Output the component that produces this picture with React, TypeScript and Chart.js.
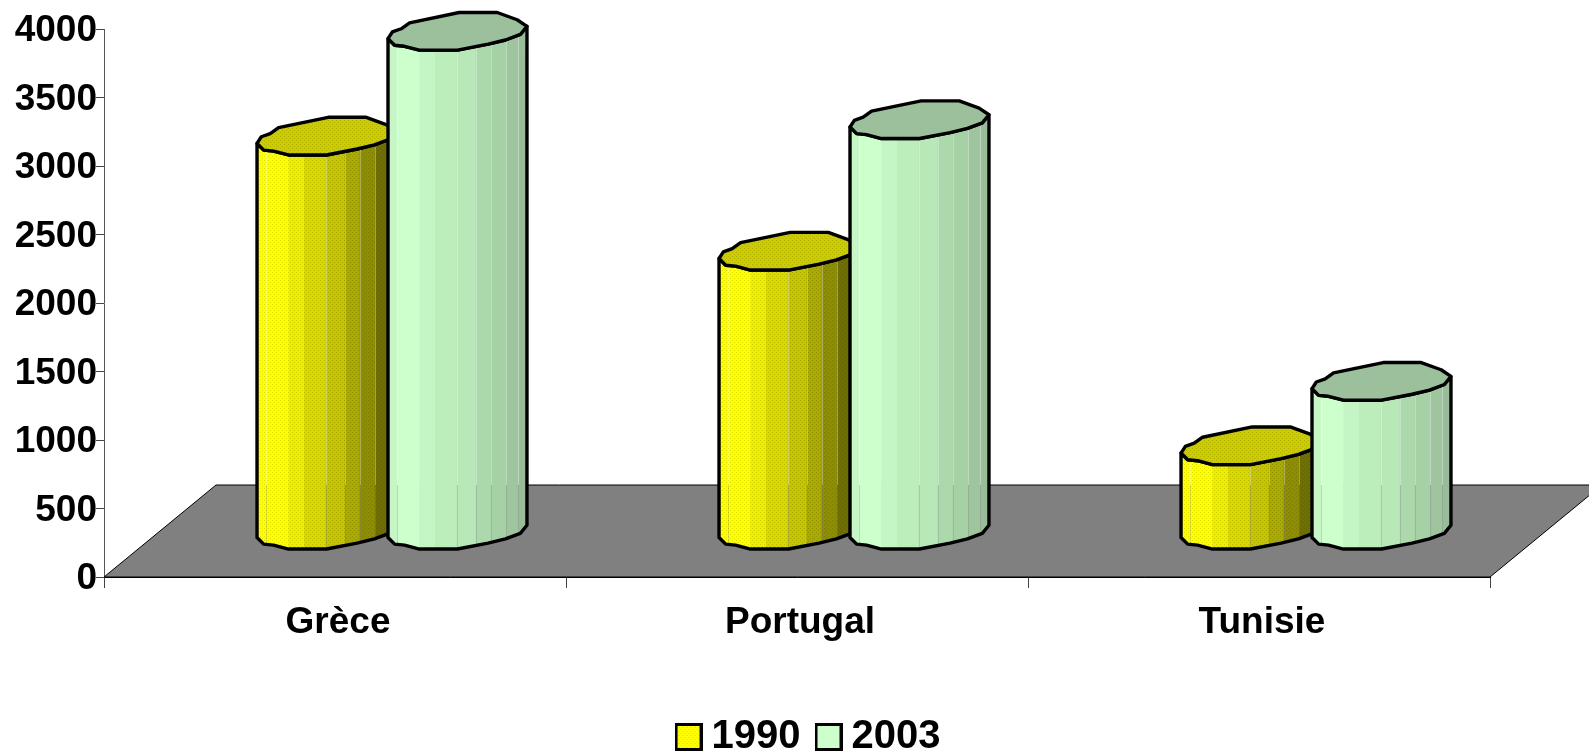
import React, { useEffect, useRef } from "react";
import { Chart, registerables } from "chart.js";

Chart.register(...registerables);

const categories = ["Grèce", "Portugal", "Tunisie"];
const series1990 = [2880, 2040, 620];
const series2003 = [3645, 3000, 1090];
const yTicks = [0, 500, 1000, 1500, 2000, 2500, 3000, 3500, 4000];

const FONT = '"Liberation Sans", Arial, sans-serif';
const DEPTH_X = 57;
const DEPTH_Y = 39;
const FLOOR_DX = 112;
const FLOOR_DY = 92;

const frontArc = [[0, 0], [0.048, 0.048], [0.119, 0.055], [0.226, 0.083], [0.5, 0.083], [0.72, 0.04], [0.845, 0.01], [0.952, -0.03], [1, -0.088]];
const backArc = [[0, 0], [0.031, -0.048], [0.095, -0.071], [0.155, -0.114], [0.512, -0.188], [0.786, -0.188], [0.929, -0.136], [1, -0.088]];
const bandEdges = [0, 0.064, 0.226, 0.338, 0.493, 0.631, 0.738, 0.85, 0.938, 1];
const seamEdges = [0.064, 0.493, 0.631, 0.738, 0.85, 0.938];

const yellowBands = ["#ffff00", "#ffff00", "#eeee00", "#d9d900", "#c6c600", "#aaaa00", "#8e8e00", "#707000", "#5c5c00"];
const greenBands = ["#c6f6c6", "#ccffcc", "#c4f5c4", "#bbeebb", "#b8e8b8", "#acd9ac", "#a6d0a6", "#9fc59f", "#99bd99"];
const yellowTop = "#cccc00";
const greenTop = "#9cbf9c";

function dither(base: string, ctx: CanvasRenderingContext2D) {
  const c = document.createElement("canvas");
  c.width = 4;
  c.height = 4;
  const g = c.getContext("2d")!;
  g.fillStyle = base;
  g.fillRect(0, 0, 4, 4);
  g.fillStyle = "rgba(0,0,0,0.13)";
  g.fillRect(0, 0, 1, 1);
  g.fillRect(2, 2, 1, 1);
  return ctx.createPattern(c, "repeat")!;
}

function legendSwatch(fill: string, dotted: boolean) {
  const c = document.createElement("canvas");
  c.width = 28;
  c.height = 28;
  const g = c.getContext("2d")!;
  g.fillStyle = dotted ? dither(fill, g) : fill;
  g.fillRect(2, 2, 24, 24);
  g.strokeStyle = "#000";
  g.lineWidth = 3;
  g.strokeRect(1.5, 1.5, 25, 25);
  return c;
}

function arcY(arc: number[][], u: number) {
  for (let i = 1; i < arc.length; i++) {
    if (u <= arc[i][0]) {
      const t = (u - arc[i - 1][0]) / (arc[i][0] - arc[i - 1][0]);
      return arc[i - 1][1] + t * (arc[i][1] - arc[i - 1][1]);
    }
  }
  return arc[arc.length - 1][1];
}

function drawCylinder(
  ctx: CanvasRenderingContext2D,
  left: number,
  width: number,
  topY: number,
  baseY: number,
  floorBackY: number,
  bands: (string | CanvasPattern)[],
  top: string | CanvasPattern
) {
  const px = (a: number[]) => left + a[0] * width;
  const body = new Path2D();
  frontArc.forEach((p, i) => {
    const x = px(p);
    const y = topY + p[1] * width;
    if (i === 0) body.moveTo(x, y);
    else body.lineTo(x, y);
  });
  [...frontArc].reverse().forEach((p) => body.lineTo(px(p), baseY + p[1] * width));
  body.closePath();

  ctx.save();
  ctx.clip(body);
  bandEdges.slice(1).forEach((e, i) => {
    const x0 = left + bandEdges[i] * width;
    const x1 = left + e * width;
    ctx.fillStyle = bands[i];
    ctx.fillRect(x0, topY - width, x1 - x0 + 0.5, baseY - topY + 2 * width);
  });
  seamEdges.forEach((e) => {
    const x = Math.round(left + e * width) + 0.5;
    const yTop = topY + arcY(frontArc, e) * width;
    const yBot = baseY + arcY(frontArc, e) * width;
    ctx.lineWidth = 1;
    if (yTop < floorBackY) {
      ctx.strokeStyle = "rgba(255,255,255,0.3)";
      ctx.beginPath();
      ctx.moveTo(x, yTop);
      ctx.lineTo(x, Math.min(floorBackY, yBot));
      ctx.stroke();
    }
    if (yBot > floorBackY) {
      ctx.strokeStyle = "rgba(128,128,128,0.3)";
      ctx.beginPath();
      ctx.moveTo(x, Math.max(floorBackY, yTop));
      ctx.lineTo(x, yBot);
      ctx.stroke();
    }
  });
  ctx.restore();

  ctx.lineWidth = 3.4;
  ctx.lineJoin = "round";
  ctx.strokeStyle = "#000";
  ctx.stroke(body);

  const cap = new Path2D();
  frontArc.forEach((p, i) => {
    const x = px(p);
    const y = topY + p[1] * width;
    if (i === 0) cap.moveTo(x, y);
    else cap.lineTo(x, y);
  });
  [...backArc].reverse().forEach((p) => cap.lineTo(px(p), topY + p[1] * width));
  cap.closePath();
  ctx.fillStyle = top;
  ctx.fill(cap);
  ctx.stroke(cap);
}

const cylinderPlugin = {
  id: "cylinders",
  afterLayout(chart: any) {
    if (chart.legend) {
      chart.legend.top += 13;
      chart.legend.bottom += 13;
      chart.legend.left += 68;
      chart.legend.right += 68;
    }
  },
  beforeDatasetsDraw(chart: any) {
    const { ctx, chartArea } = chart;
    const { left, right, bottom } = chartArea;
    ctx.save();
    ctx.beginPath();
    ctx.moveTo(left, bottom);
    ctx.lineTo(right, bottom);
    ctx.lineTo(right + FLOOR_DX, bottom - FLOOR_DY);
    ctx.lineTo(left + FLOOR_DX, bottom - FLOOR_DY);
    ctx.closePath();
    ctx.fillStyle = "#808080";
    ctx.fill();
    ctx.lineWidth = 1;
    ctx.strokeStyle = "#000";
    ctx.stroke();
    ctx.restore();
  },
  afterDatasetsDraw(chart: any) {
    const { ctx, chartArea } = chart;
    const floorBackY = chartArea.bottom - FLOOR_DY;
    ctx.save();
    const styles = [
      { bands: yellowBands.map((c) => dither(c, ctx)), top: dither(yellowTop, ctx) },
      { bands: greenBands, top: greenTop },
    ];
    chart.data.labels.forEach((_: string, index: number) => {
      chart.data.datasets.forEach((_d: any, di: number) => {
        const bar = chart.getDatasetMeta(di).data[index];
        const props = bar.getProps(["x", "y", "base", "width"], true);
        drawCylinder(
          ctx,
          props.x - props.width / 2 + DEPTH_X,
          props.width,
          props.y - DEPTH_Y,
          props.base - DEPTH_Y,
          floorBackY,
          styles[di].bands,
          styles[di].top
        );
      });
    });
    ctx.restore();
  },
};

export default function App() {
  const ref = useRef<HTMLCanvasElement>(null);
  useEffect(() => {
    document.body.style.margin = "0";
    const swatches = [legendSwatch("#ffff00", true), legendSwatch("#ccffcc", false)];
    const chart = new Chart(ref.current!, {
      type: "bar",
      data: {
        labels: categories,
        datasets: [
          { label: "1990", data: series1990, backgroundColor: "rgba(0,0,0,0)", borderWidth: 0 },
          { label: "2003", data: series2003, backgroundColor: "rgba(0,0,0,0)", borderWidth: 0 },
        ],
      },
      options: {
        responsive: false,
        animation: false,
        events: [],
        layout: { padding: { top: 29, right: 99, left: 0, bottom: 0 } },
        datasets: { bar: { categoryPercentage: 0.567, barPercentage: 1.061 } },
        scales: {
          x: {
            grid: { drawOnChartArea: false, tickLength: 11, color: "#444", offset: true },
            border: { color: "#000", width: 1 },
            ticks: { color: "#000", padding: 13, labelOffset: 3, font: { family: FONT, weight: "bold", size: 37 }, maxRotation: 0 },
            afterFit(scale: any) {
              scale.height = 102;
            },
          },
          y: {
            min: 0,
            max: 4000,
            grid: { drawOnChartArea: false, tickLength: 8, color: "#444" },
            border: { color: "#555", width: 1 },
            ticks: {
              color: "#000",
              padding: -1,
              labelOffset: 2,
              stepSize: 500,
              font: { family: FONT, weight: "bold", size: 37 },
              callback: (v: any) => (yTicks.includes(v) ? String(v) : ""),
            },
            afterFit(scale: any) {
              scale.width = 104;
            },
          },
        },
        plugins: {
          title: { display: false },
          tooltip: { enabled: false },
          legend: {
            display: true,
            position: "bottom",
            labels: {
              color: "#000",
              boxWidth: 6,
              boxHeight: 28,
              padding: 25,
              usePointStyle: true,
              pointStyleWidth: 6,
              font: { family: FONT, weight: "bold", size: 40 },
              generateLabels: (c: any) =>
                c.data.datasets.map((d: any, i: number) => ({
                  text: d.label,
                  datasetIndex: i,
                  pointStyle: swatches[i],
                  fontColor: "#000",
                  hidden: false,
                  lineWidth: 0,
                  strokeStyle: "transparent",
                  fillStyle: "transparent",
                })),
            },
          },
        },
      },
      plugins: [cylinderPlugin],
    } as any);
    return () => chart.destroy();
  }, []);
  return <canvas ref={ref} width={1589} height={754} style={{ display: "block", width: 1589, height: 754 }} />;
}
